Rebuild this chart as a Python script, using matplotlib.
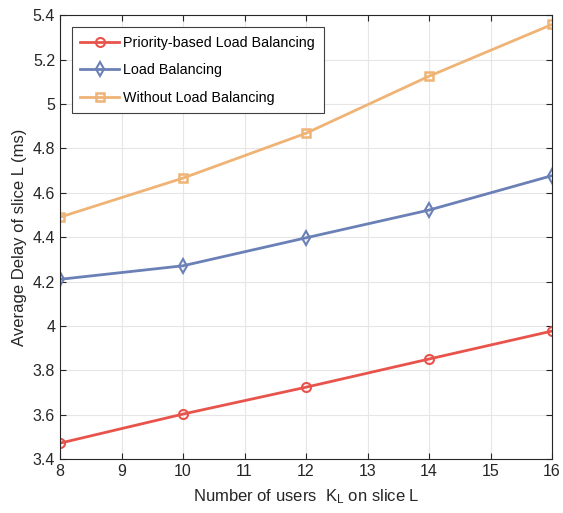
import matplotlib
matplotlib.use("Agg")
import matplotlib.pyplot as plt

plt.rcParams['font.family'] = ['Liberation Sans', 'DejaVu Sans']
plt.rcParams['mathtext.fontset'] = 'custom'
plt.rcParams['mathtext.rm'] = 'Liberation Sans'
plt.rcParams['mathtext.it'] = 'Liberation Sans'

users = [8, 10, 12, 14, 16]
priority_lb = [3.472, 3.603, 3.724, 3.851, 3.977]
load_bal = [4.210, 4.271, 4.397, 4.522, 4.677]
without_lb = [4.490, 4.666, 4.868, 5.125, 5.358]

red = '#e8534b'
blue = '#6a80b6'
orange = '#efb475'

fig = plt.figure(figsize=(5.63, 5.13), dpi=100)
ax = fig.add_axes([0.1066, 0.105, 0.874, 0.8655])

ax.plot(users, priority_lb, color=red, lw=2, marker='o', ms=6.5, mfc='none', mew=1.5,
        label='Priority-based Load Balancing')
ax.plot(users, load_bal, color=blue, lw=2, marker='d', ms=7.5, mfc='none', mew=1.5,
        label='Load Balancing')
ax.plot(users, without_lb, color=orange, lw=2, marker='s', ms=6, mfc='none', mew=1.8,
        label='Without Load Balancing')

ax.set_xlim(8, 16)
ax.set_ylim(3.4, 5.4)
ax.set_xticks(range(8, 17))
yt = [3.4, 3.6, 3.8, 4.0, 4.2, 4.4, 4.6, 4.8, 5.0, 5.2, 5.4]
ax.set_yticks(yt)
ax.set_yticklabels(['%g' % v for v in yt])
ax.tick_params(direction='in', labelsize=11.5, length=4, colors='#262626', top=True, right=True)
ax.grid(True, color='#e6e6e6', lw=0.8)
ax.set_axisbelow(True)
for s in ax.spines.values():
    s.set_color('#262626')
    s.set_linewidth(0.8)

ax.set_xlabel(r'Number of users  $\mathregular{K_L}$ on slice L', fontsize=12, color='#262626',
              labelpad=6)
ax.set_ylabel('Average Delay of slice L (ms)', fontsize=12, color='#262626')

leg = ax.legend(loc='upper left', bbox_to_anchor=(0.024, 0.973), fontsize=10.3,
                fancybox=False, edgecolor='#404040', framealpha=1, handlelength=2.7,
                handletextpad=0.3, borderpad=0.6, labelspacing=0.95, borderaxespad=0)
leg.get_frame().set_linewidth(0.8)

fig.savefig('out.png', dpi=100)
